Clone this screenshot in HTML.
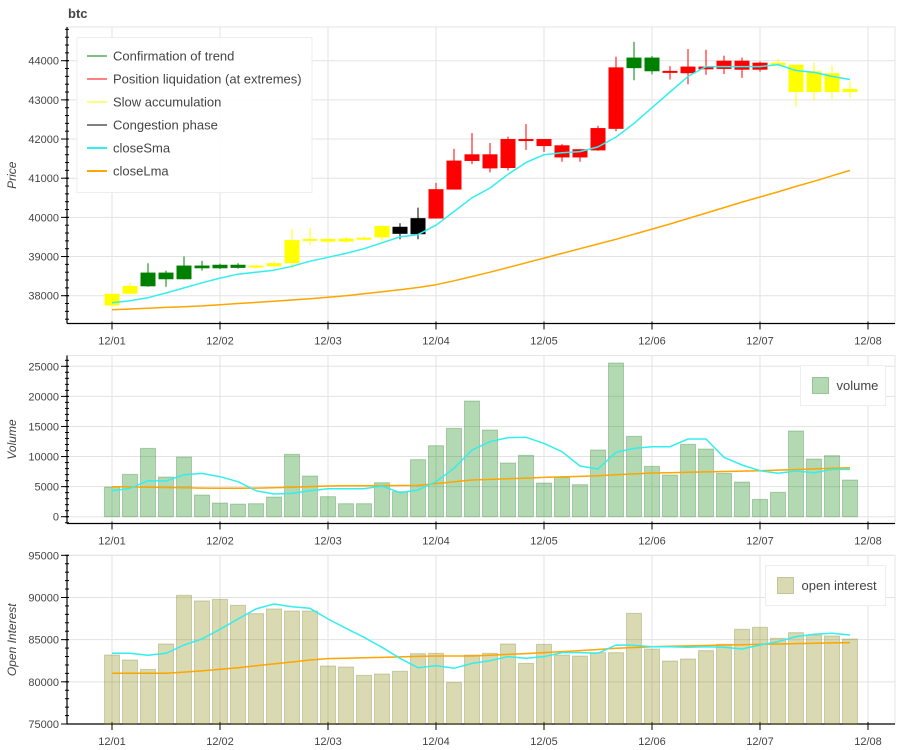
<!DOCTYPE html>
<html><head><meta charset="utf-8">
<style>
html,body{margin:0;padding:0;background:#fff;}
svg{display:block;font-family:"Liberation Sans",sans-serif;}
</style></head>
<body>
<svg id="chart" width="900" height="750" viewBox="0 0 900 750"></svg>
<script>
// ---- data ----
const categories = ["12/01","12/02","12/03","12/04","12/05","12/06","12/07","12/08"];
const candleOpen  = [37750,38050,38240,38420,38420,38700,38700,38710,38720,38750,38830,39420,39380,39380,39440,39490,39580,39570,39970,40710,41440,41250,41260,42000,41820,41530,41530,41710,42260,43810,43730,43700,43680,43780,43790,43770,43770,43880,43200,43200,43200,43200];
const candleClose = [38050,38250,38590,38590,38770,38770,38790,38790,38770,38830,39420,39450,39450,39460,39480,39780,39760,39980,40720,41450,41610,41610,42000,42000,42000,41840,41740,42280,43830,44080,44080,43740,43850,43850,44000,44000,43950,43950,43900,43730,43680,43280];
const candleHigh  = [38050,38330,38830,38640,39000,38890,38820,38830,38800,38880,39710,39730,39480,39500,39520,39800,39850,40250,40880,41750,42150,41900,42060,42380,42000,41870,41740,42340,44100,44480,44120,43860,44300,44280,44130,44080,43980,44050,43900,43950,43870,43480];
const candleLow   = [37720,38050,38230,38230,38420,38640,38680,38690,38700,38720,38700,39300,39330,39350,39420,39380,39440,39440,39970,40710,41360,41150,41200,41720,41670,41420,41420,41700,42200,43500,43650,43520,43400,43640,43660,43560,43720,43850,42830,43000,43030,43060];
const phase = ["y","y","g","g","g","g","g","g","y","y","y","y","y","y","y","y","k","k","r","r","r","r","r","r","r","r","r","r","r","g","g","r","r","r","r","r","r","y","y","y","y","y"];
const closeSma = [37820,37870,37950,38070,38200,38330,38450,38550,38600,38650,38750,38880,38980,39080,39200,39350,39500,39560,39800,40150,40500,40750,41100,41400,41600,41650,41680,41800,42050,42400,42800,43200,43600,43850,43850,43850,43850,43900,43750,43700,43600,43520];
const closeLma = [37640,37660,37680,37700,37720,37740,37770,37800,37830,37860,37890,37920,37960,38000,38050,38100,38150,38210,38280,38380,38490,38600,38720,38840,38960,39080,39200,39320,39440,39570,39700,39830,39970,40110,40250,40390,40520,40650,40790,40920,41060,41200];
const volume = [4930,7040,11360,6600,9920,3600,2270,2100,2160,3270,10370,6760,3330,2160,2160,5650,4160,9480,11800,14690,19230,14410,8920,10200,5600,6540,5320,11090,25550,13360,8370,6930,12030,11250,7210,5760,2880,4050,14250,9590,10140,6100];
const volumeSma = [4320,4700,5990,5930,6980,7200,6650,5820,4320,3770,3880,4320,4660,4660,4660,5100,3990,4430,5820,8040,11090,12470,13140,13190,12190,10810,8430,7930,10700,11360,11640,11640,12910,12910,9870,8590,7650,7210,7590,7320,7870,7870];
const volumeLma = [4990,4950,4900,4850,4800,4750,4720,4720,4750,4800,4900,5000,5100,5130,5150,5170,5190,5200,5500,5800,6100,6200,6300,6420,6540,6620,6700,6820,6970,7120,7260,7320,7380,7450,7520,7580,7650,7750,7850,7950,8050,8150];
const openInterest = [83180,82590,81480,84490,90260,89590,89780,89070,88080,88640,88400,88400,81880,81760,80770,80930,81250,83340,83380,79940,83180,83380,84490,82190,84450,83180,83060,83460,83460,88120,83890,82470,82710,83700,84450,86230,86460,85160,85830,85550,85440,85080];
const oiSma = [83380,83380,83140,83380,84370,85080,86230,87450,88640,89230,88910,88720,87450,86350,85280,84090,82790,81680,81920,81600,82190,82510,82990,82790,82990,83460,83460,83380,84370,84330,84170,84170,84090,84170,84090,83890,84370,84760,85360,85630,85750,85550];
const oiLma = [81010,81010,81010,81010,81150,81290,81480,81680,81900,82120,82350,82590,82750,82800,82850,82900,82960,83010,83060,83060,83060,83150,83250,83350,83460,83580,83700,83830,83970,84070,84170,84220,84260,84310,84360,84400,84450,84490,84530,84570,84610,84650];
const priceTicks = [38000,39000,40000,41000,42000,43000,44000];
const volumeTicks = [0,5000,10000,15000,20000,25000];
const oiTicks = [75000,80000,85000,90000,95000];

// ---- layout ----
const NS = "http://www.w3.org/2000/svg";
const svg = document.getElementById("chart");
const X0 = 67, X1 = 895;
function xOf(i){ return 112 + 18*i; }
function mk(tag, attrs, parent){
  const e = document.createElementNS(NS, tag);
  for (const k in attrs) e.setAttribute(k, attrs[k]);
  (parent||svg).appendChild(e);
  return e;
}
function makeScale(v0, y0, v1, y1){ return v => y0 + (v - v0) * (y1 - y0) / (v1 - v0); }

const panels = [
  {name:"price", top:27, bottom:323.5, y: makeScale(38000,295.7,44000,60.7), ticks: priceTicks, minor:200, lo:37400, hi:44900, title:"Price"},
  {name:"volume", top:355.5, bottom:523.5, y: makeScale(0,516.7,25000,366.3), ticks: volumeTicks, minor:1000, lo:-1000, hi:26000, title:"Volume"},
  {name:"oi", top:555.5, bottom:724, y: makeScale(75000,724,95000,555.3), ticks: oiTicks, minor:1000, lo:75000, hi:95000, title:"Open Interest"}
];

// title
const t = mk("text",{x:68,y:18,"font-size":13,"font-weight":"bold",fill:"#444"});


t.textContent = "btc";

panels.forEach(p => {
  const g = mk("g",{});
  
  
  // outline
  mk("rect",{x:X0,y:p.top,width:X1-X0,height:p.bottom-p.top,fill:"none",stroke:"#e5e5e5","stroke-width":1},g);
  // grid
  categories.forEach((c,k) => {
    const x = xOf(6*k);
    mk("line",{x1:x,x2:x,y1:p.top,y2:p.bottom,stroke:"#e3e3e3","stroke-width":1},g);
  });
  p.ticks.forEach(v => {
    const y = p.y(v);
    mk("line",{x1:X0,x2:X1,y1:y,y2:y,stroke:"#e3e3e3","stroke-width":1},g);
  });
  // y axis
  const ya = mk("g",{},g);
  
  
  mk("line",{x1:X0,x2:X0,y1:p.top,y2:p.bottom,stroke:"#000","stroke-width":1.2},ya);
  for (let v = Math.ceil(p.lo/p.minor)*p.minor; v <= p.hi; v += p.minor){
    const y = p.y(v);
    if (y < p.top-0.5 || y > p.bottom) continue;
    mk("line",{x1:X0-2,x2:X0+2,y1:y,y2:y,stroke:"#000","stroke-width":1},ya);
  }
  p.ticks.forEach(v => {
    const y = p.y(v);
    mk("line",{x1:X0-6,x2:X0+2,y1:y,y2:y,stroke:"#000","stroke-width":1},ya);
    const tl = mk("text",{x:X0-8,y:y+4,"font-size":11,"text-anchor":"end",fill:"#444"},ya);
    
    
    tl.textContent = v;
  });
  const mid = (p.top + p.bottom)/2;
  const at = mk("text",{x:16,y:mid,"font-size":12,"font-style":"italic","text-anchor":"middle",fill:"#444",transform:`rotate(-90 16 ${mid})`},ya);
  
  
  at.textContent = p.title;
  // x axis
  const xa = mk("g",{},g);
  
  
  mk("line",{x1:X0,x2:X1,y1:p.bottom,y2:p.bottom,stroke:"#000","stroke-width":1.2},xa);
  categories.forEach((c,k) => {
    const x = xOf(6*k);
    mk("line",{x1:x,x2:x,y1:p.bottom-2,y2:p.bottom+6,stroke:"#000","stroke-width":1},xa);
    const xl = mk("text",{x:x,y:p.bottom+21,"font-size":11,"text-anchor":"middle",fill:"#444"},xa);
    
    
    xl.textContent = c;
  });
  p.g = g;
});

function drawLine(p, vals, color, name){
  const pts = vals.map((v,i) => xOf(i)+","+p.y(v).toFixed(1)).join(" ");
  const l = mk("polyline",{points:pts,fill:"none",stroke:color,"stroke-width":1.5,"stroke-linejoin":"round"},p.g);
  
  
}

// candles
const P = panels[0];
const colors = {g:"#008000", r:"#ff0000", y:"#ffff00", k:"#000000"};
const cg = mk("g",{},P.g);


candleOpen.forEach((o,i) => {
  const c = candleClose[i], col = colors[phase[i]];
  const x = xOf(i);
  const w = mk("line",{x1:x,x2:x,y1:P.y(candleHigh[i]),y2:P.y(candleLow[i]),stroke:col,"stroke-width":1},cg);
  
  
  const yt = P.y(Math.max(o,c)), yb = P.y(Math.min(o,c));
  const b = mk("rect",{x:x-7.5,y:yt,width:15,height:Math.max(2,yb-yt),fill:col},cg);
  
  
});
drawLine(P, closeLma, "#ffa500", "close-lma-line");
drawLine(P, closeSma, "#33eeee", "close-sma-line");

// volume bars
const V = panels[1];
volume.forEach((v,i) => {
  const r = mk("rect",{x:xOf(i)-7.5,y:V.y(v),width:15,height:V.y(0)-V.y(v),fill:"rgba(0,128,0,0.3)",stroke:"rgba(0,100,0,0.25)","stroke-width":1},V.g);
  
  
});
drawLine(V, volumeLma, "#ffa500", "volume-lma-line");
drawLine(V, volumeSma, "#33eeee", "volume-sma-line");

// OI bars
const O = panels[2];
openInterest.forEach((v,i) => {
  const r = mk("rect",{x:xOf(i)-7.5,y:O.y(v),width:15,height:O.y(75000)-O.y(v),fill:"rgba(128,128,0,0.3)",stroke:"rgba(100,100,0,0.25)","stroke-width":1},O.g);
  
  
});
drawLine(O, oiLma, "#ffa500", "oi-lma-line");
drawLine(O, oiSma, "#33eeee", "oi-sma-line");

// legends
const lg = mk("g",{});


mk("rect",{x:77,y:37.5,width:235,height:155,fill:"rgba(255,255,255,0.95)",stroke:"#eee"},lg);
const legItems = [["Confirmation of trend","#008000"],["Position liquidation (at extremes)","#ff0000"],["Slow accumulation","#ffff00"],["Congestion phase","#000"],["closeSma","#33eeee"],["closeLma","#ffa500"]];
legItems.forEach((it,k) => {
  const y = 56 + 23*k;
  const e = mk("g",{},lg);
  
  
  mk("line",{x1:87,x2:107,y1:y,y2:y,stroke:it[1],"stroke-width":k>=4?2:1},e);
  const tx = mk("text",{x:113,y:y+4.5,"font-size":13,fill:"#444"},e);
  tx.textContent = it[0];
});
function boxLegend(x,y,w,label,fill,stroke,name){
  const g = mk("g",{});
  
  
  mk("rect",{x:x,y:y,width:w,height:40,fill:"#fff",stroke:"#eee"},g);
  mk("rect",{x:x+12,y:y+12,width:16,height:16,fill:fill,stroke:stroke},g);
  const tx = mk("text",{x:x+36,y:y+24.5,"font-size":13,fill:"#444"},g);
  tx.textContent = label;
}
boxLegend(800.5,365.5,85,"volume","rgba(0,128,0,0.3)","rgba(0,100,0,0.3)","volume-legend");
boxLegend(765.5,565.5,120,"open interest","rgba(128,128,0,0.3)","rgba(100,100,0,0.3)","oi-legend");
</script>
</body></html>
